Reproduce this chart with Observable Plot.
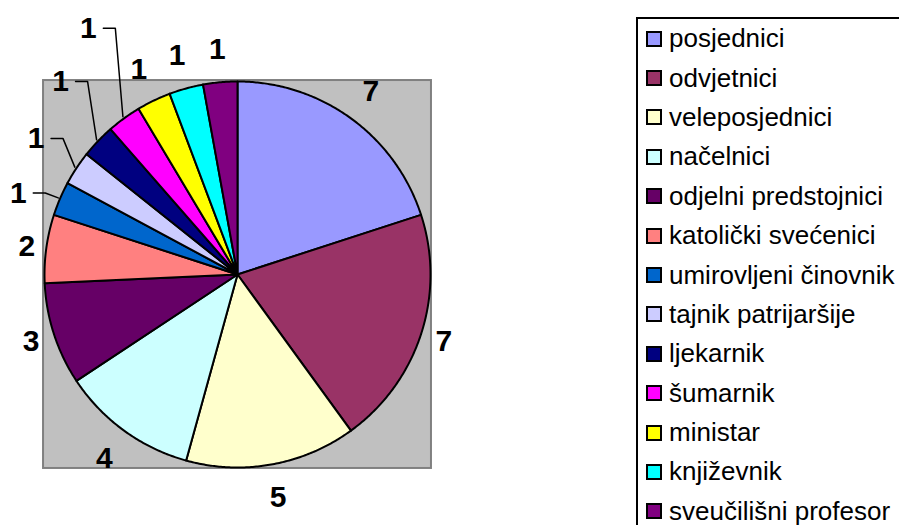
<!DOCTYPE html>
<html><head><meta charset="utf-8">
<script src="https://cdn.jsdelivr.net/npm/d3@7"></script>
<script src="https://cdn.jsdelivr.net/npm/@observablehq/plot@0.6"></script>
<style>
html,body{margin:0;padding:0;background:#fff;overflow:hidden;}
#wrap{position:relative;width:899px;height:525px;overflow:hidden;}
#chart{position:absolute;left:0;top:0;}
#legend{position:absolute;left:636px;top:17px;width:320px;height:560px;border:2px solid #000;box-sizing:border-box;font-family:"Liberation Sans",Arial,sans-serif;font-size:26px;color:#000;background:#fff;}
.item{height:39.4px;display:flex;align-items:center;padding-left:8px;white-space:nowrap;}
.sw{width:12px;height:12px;border:2px solid #000;margin-right:7px;flex:none;}
</style></head><body>
<div id="wrap"><div id="chart"></div><div id="legend"></div></div>
<script>
// ---- data ----
const categories = ["posjednici","odvjetnici","veleposjednici","načelnici","odjelni predstojnici","katolički svećenici","umirovljeni činovnik","tajnik patrijaršije","ljekarnik","šumarnik","ministar","književnik","sveučilišni profesor"];
const values = [7,7,5,4,3,2,1,1,1,1,1,1,1];
const colors = ["#9999FF","#993366","#FFFFCC","#CCFFFF","#660066","#FF8080","#0066CC","#CCCCFF","#000080","#FF00FF","#FFFF00","#00FFFF","#800080"];

// ---- layout ----
const W = 625, H = 525, CX = 237, CY = 274, R = 193;
// labels dragged out with leader lines: radius factor and angle (deg) overrides
const leaderLabels = {
  "umirovljeni činovnik": {r: 1.212, a: 290.4},
  "tajnik patrijaršije": {r: 1.259, a: 304},
  "ljekarnik": {r: 1.357, a: 317.5},
  "šumarnik": {r: 1.492, a: 328.8}
};

const data = categories.map((name, i) => ({name, value: values[i]}));
const arcs = d3.pie().sort(null).value(d => d.value)(data);

const slicePts = [];
arcs.forEach(a => {
  const n = Math.max(2, Math.ceil((a.endAngle - a.startAngle) / (Math.PI / 360)));
  slicePts.push({name: a.data.name, x: 0, y: 0});
  for (let k = 0; k <= n; k++) {
    const t = a.startAngle + (a.endAngle - a.startAngle) * k / n;
    slicePts.push({name: a.data.name, x: Math.sin(t), y: Math.cos(t)});
  }
  slicePts.push({name: a.data.name, x: 0, y: 0});
});

// default label placement: outside the arc, offset by half the label box
const R0 = 197 / R, bx = 12 / R, by = 28 / R;
const labels = [];
const leaders = [];
arcs.forEach(a => {
  const mid = (a.startAngle + a.endAngle) / 2;
  const ov = leaderLabels[a.data.name];
  let lx, ly;
  if (ov) {
    const t = ov.a * Math.PI / 180;
    lx = ov.r * Math.sin(t); ly = ov.r * Math.cos(t);
    const sx = lx + 15 / R, ex = sx + 12 / R;
    leaders.push({name: a.data.name, x: sx, y: ly});
    leaders.push({name: a.data.name, x: ex, y: ly});
    leaders.push({name: a.data.name, x: 1.01 * Math.sin(mid), y: 1.01 * Math.cos(mid)});
  } else {
    const s = Math.sin(mid), c = Math.cos(mid);
    const off = R0 + Math.abs(s) * bx + Math.abs(c) * by;
    lx = off * s; ly = off * c;
  }
  labels.push({name: a.data.name, text: String(a.data.value), x: lx, y: ly});
});

const plot = Plot.plot({
  width: W, height: H,
  marginTop: 0, marginRight: 0, marginBottom: 0, marginLeft: 0,
  x: {domain: [-CX / R, (W - CX) / R], axis: null},
  y: {domain: [-(H - CY) / R, CY / R], axis: null},
  color: {domain: categories, range: colors},
  style: {fontFamily: "'Liberation Sans', Arial, sans-serif", background: "#fff"},
  marks: [
    Plot.rect([0], {x1: -1.005, x2: 1.005, y1: -1.005, y2: 1.005, fill: "#C0C0C0", stroke: "#808080", strokeWidth: 2}),
    Plot.line(slicePts, {x: "x", y: "y", z: "name", fill: "name", stroke: "#000", strokeWidth: 2, strokeLinejoin: "round"}),
    Plot.line(leaders, {x: "x", y: "y", z: "name", stroke: "#000", strokeWidth: 1.5}),
    Plot.text(labels, {x: "x", y: "y", text: "text", fontSize: 30, fontWeight: "bold", fill: "#000"})
  ]
});
document.getElementById("chart").appendChild(plot);

const legend = document.getElementById("legend");
categories.forEach((c, i) => {
  const row = document.createElement("div");
  row.className = "item";
  const sw = document.createElement("span");
  sw.className = "sw";
  sw.style.background = colors[i];
  const tx = document.createElement("span");
  tx.textContent = c;
  row.appendChild(sw); row.appendChild(tx);
  legend.appendChild(row);
});
</script>
</body></html>
